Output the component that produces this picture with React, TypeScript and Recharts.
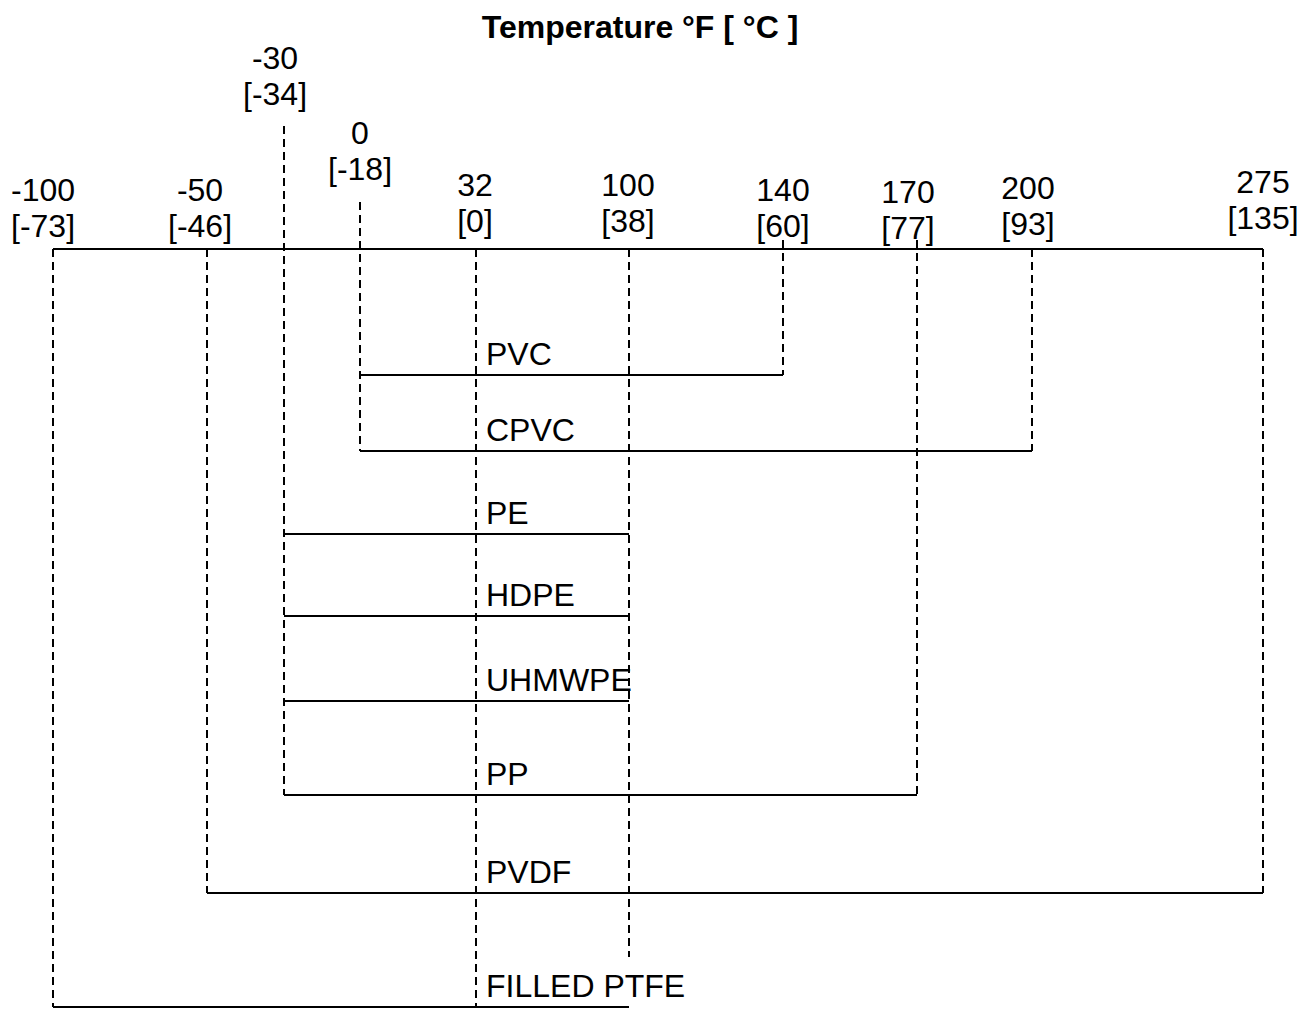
import { ComposedChart, XAxis, YAxis, ReferenceLine, Scatter } from 'recharts'

const FONT = '"Liberation Sans", Arial, Helvetica, sans-serif'

// temperature ticks
const tempF = [-100, -50, -30, 0, 32, 100, 140, 170, 200, 275]
const tempC = [-73, -46, -34, -18, 0, 38, 60, 77, 93, 135]

// service range per material, °F
const materials = ['PVC', 'CPVC', 'PE', 'HDPE', 'UHMWPE', 'PP', 'PVDF', 'FILLED PTFE']
const minF = [0, 0, -30, -30, -30, -30, -50, -100]
const maxF = [140, 200, 100, 100, 100, 170, 275, 100]

const FREEZING_F = 32

// the original is a schematic, not to scale: every tick gets its own slot
const W = 1310
const H = 1009
const tickSlot = [53, 207, 284, 360, 476, 629, 783, 917, 1032, 1263]
const rowSlot = [375, 451, 534, 616, 701, 795, 893, 1007]
const axisRow = 249
const labelRow = [201, 201, 69, 144, 196, 196, 201, 203, 199, 193]
const labelShift = [-10, -7, -9, 0, -1, -1, 0, -9, -4, 0]
const guideTop = [249, 249, 126, 202, 249, 249, 240, 240, 249, 249]
const LINE_GAP = 36
const NAME_GAP = 10
const CHAR_W = 18

// temperature -> slot, piecewise between ticks
function pos(f: number) {
  for (let i = 0; i < tempF.length - 1; i++) {
    if (f >= tempF[i] && f <= tempF[i + 1]) {
      const t = (f - tempF[i]) / (tempF[i + 1] - tempF[i])
      return tickSlot[i] + t * (tickSlot[i + 1] - tickSlot[i])
    }
  }
  return f < tempF[0] ? tickSlot[0] : tickSlot[tickSlot.length - 1]
}

const nameX = pos(FREEZING_F) + 10

// each guide runs down to the lowest bar that starts or ends on it
const guideBottom = tempF.map((f) => {
  const last = rowSlot.length - 1
  if (f === FREEZING_F) return rowSlot[last]
  let row = -1
  materials.forEach((_, i) => {
    if (minF[i] === f || maxF[i] === f) row = Math.max(row, i)
  })
  if (row < 0) return axisRow
  const x = pos(f)
  const labelEnd = nameX + materials[row].length * CHAR_W
  // stop short when it would run through the row's name
  if (x > nameX && x < labelEnd && row === last) return rowSlot[row] - 50
  return rowSlot[row]
})

const tickLabels = tempF.map((f, i) => ({
  x: pos(f),
  y: labelRow[i],
  f,
  c: tempC[i],
  dx: labelShift[i],
}))

const rowLabels = materials.map((name, i) => ({ x: pos(FREEZING_F), y: rowSlot[i], name }))

function TickLabel(props: any) {
  const { cx, cy, payload } = props
  const x = cx + payload.dx
  return (
    <text textAnchor="middle" fontFamily={FONT} fontSize={32} fill="#000">
      <tspan x={x} y={cy}>{payload.f}</tspan>
      <tspan x={x} y={cy + LINE_GAP}>{`[${payload.c}]`}</tspan>
    </text>
  )
}

function RowLabel(props: any) {
  const { cx, cy, payload } = props
  return (
    <text x={cx + 10} y={cy - NAME_GAP} fontFamily={FONT} fontSize={32} fill="#000">
      {payload.name}
    </text>
  )
}

export default function App() {
  return (
    <div style={{ position: 'absolute', left: 0, top: 0, width: W, height: H, background: '#fff' }}>
      <div
        style={{
          position: 'absolute',
          top: 11,
          left: 0,
          width: 1280,
          textAlign: 'center',
          fontFamily: FONT,
          fontWeight: 'bold',
          fontSize: 32,
          lineHeight: '32px',
          color: '#000',
        }}
      >
        Temperature °F [ °C ]
      </div>
      <ComposedChart width={W} height={H} margin={{ top: 0, right: 0, bottom: 0, left: 0 }}>
        <XAxis type="number" dataKey="x" domain={[0, W]} allowDataOverflow hide />
        <YAxis type="number" dataKey="y" domain={[0, H]} allowDataOverflow reversed hide />

        <ReferenceLine
          segment={[
            { x: pos(tempF[0]), y: axisRow },
            { x: pos(tempF[tempF.length - 1]), y: axisRow },
          ]}
          stroke="#000"
          strokeWidth={2}
          ifOverflow="visible"
        />

        {tempF.map((f, i) => (
          <ReferenceLine
            key={`g${f}`}
            segment={[
              { x: pos(f), y: guideTop[i] },
              { x: pos(f), y: guideBottom[i] },
            ]}
            stroke="#000"
            strokeWidth={2}
            strokeDasharray="8 5"
            ifOverflow="visible"
          />
        ))}

        {materials.map((m, i) => (
          <ReferenceLine
            key={m}
            segment={[
              { x: pos(minF[i]), y: rowSlot[i] },
              { x: pos(maxF[i]), y: rowSlot[i] },
            ]}
            stroke="#000"
            strokeWidth={2}
            ifOverflow="visible"
          />
        ))}

        <Scatter data={tickLabels} shape={<TickLabel />} isAnimationActive={false} />
        <Scatter data={rowLabels} shape={<RowLabel />} isAnimationActive={false} />
      </ComposedChart>
    </div>
  )
}
